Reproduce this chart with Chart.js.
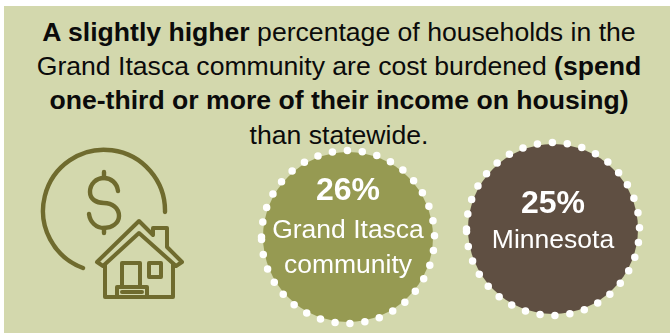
<!DOCTYPE html>
<html>
<head>
<meta charset="utf-8">
<title>Cost burdened households</title>
<script src="https://cdn.jsdelivr.net/npm/chart.js@4"></script>
<style>
  html, body { margin: 0; padding: 0; background: #fff; overflow: hidden; }
  #panel { position: absolute; left: 4px; top: 6px; width: 666px; height: 327px; background: #d3d8ad; overflow: hidden; }
  #headline {
    position: absolute; left: 0; top: 15px; width: 678px; text-align: center;
    font: 26.6px/34.2px "Liberation Sans", Arial, sans-serif; color: #0b0b0b;
  }
  #headline div { white-space: nowrap; }
  #icon { position: absolute; left: 0; top: 0; }
  #chart-wrap { position: absolute; left: 0; top: 0; width: 670px; height: 333px; }
</style>
</head>
<body>
<div id="panel"></div>
<div id="headline">
  <div><b>A slightly higher</b> percentage of households in the</div>
  <div>Grand Itasca community are cost burdened <b>(spend</b></div>
  <div><b>one-third or more of their income on housing)</b></div>
  <div>than statewide.</div>
</div>

<!-- dollar sign and house -->
<svg id="icon" width="670" height="333" fill="none" stroke="#6f6b2e" stroke-linecap="round" stroke-linejoin="round">
  <path stroke-width="4.4" d="M165 212 A61 61 0 1 0 83 268"/>
  <path stroke-width="4.4" d="M118 191 C117 183 111 178 104 178 C96 178 90 184 90 192 C90 199 96 203 104 203 C112 203 119 208 119 216 C119 223 112 228 104 228 C96 228 90 222 89 214"/>
  <path stroke-width="4.4" d="M104 172 V178 M104 228 V233"/>
  <path stroke-width="4" d="M97 262 L139 221 L153 235 V228 H167 V247 L182 262 L176 266 L139 233 L103 266 Z"/>
  <path stroke-width="4" d="M105 265 V297 H173 V264"/>
  <path stroke-width="4" d="M122 287 V263 H140 V287"/>
  <path stroke-width="4" d="M117 297 V287 H147 V297 M122 292 H142"/>
  <path stroke-width="4" d="M149 263 H161 V277 H149 Z"/>
</svg>

<div id="chart-wrap"><canvas id="circles"></canvas></div>

<script>
var places = ["Grand Itasca community", "Minnesota"];
var shares = [26, 25];
var placeLines = [["Grand Itasca", "community"], ["Minnesota"]];
var fills = ["#969a52", "#5f4f42"];

// white dots round each circle plus the labels inside it
var circleLabels = {
	id: "circleLabels",
	afterDatasetsDraw: function(chart) {
		var ctx = chart.ctx;
		var points = chart.getDatasetMeta(0).data;
		for (var i = 0; i < points.length; i++) {
			var p = points[i];
			ctx.save();
			ctx.strokeStyle = "#fff";
			ctx.lineWidth = 7.5;
			ctx.lineCap = "round";
			ctx.setLineDash([0, 15]);
			ctx.beginPath();
			ctx.arc(p.x, p.y, 86.5, Math.PI, Math.PI * 3);
			ctx.stroke();
			ctx.setLineDash([]);

			ctx.fillStyle = "#fff";
			ctx.textAlign = "center";
			ctx.textBaseline = "alphabetic";
			var lines = placeLines[i];
			var twoLines = lines.length == 2;
			ctx.font = "bold 32px 'Liberation Sans', Arial, sans-serif";
			ctx.fillText(shares[i] + "%", p.x, p.y + (twoLines ? -37 : -16));
			ctx.font = "26.5px 'Liberation Sans', Arial, sans-serif";
			for (var j = 0; j < lines.length; j++) {
				ctx.fillText(lines[j], p.x, p.y + (twoLines ? 1 : 19) + j * 35);
			}
			ctx.restore();
		}
	}
};

new Chart(document.getElementById("circles"), {
	type: "scatter",
	data: {
		labels: places,
		datasets: [{
			data: places.map(function(name, i) { return { x: name, y: shares[i] }; }),
			backgroundColor: fills,
			borderWidth: 0,
			pointRadius: 85,
			pointHoverRadius: 85,
			clip: false
		}]
	},
	options: {
		responsive: true,
		maintainAspectRatio: false,
		animation: false,
		events: [],
		layout: { autoPadding: false, padding: { left: 245.5, right: 14.5, top: 0, bottom: 0 } },
		plugins: { legend: { display: false }, tooltip: { enabled: false } },
		scales: {
			// the higher share sits lower on the page, 8px per point
			x: { type: "category", offset: true, display: false },
			y: { reverse: true, min: 25 - 229 / 8, max: 25 + 104 / 8, display: false }
		}
	},
	plugins: [circleLabels]
});
</script>
</body>
</html>
